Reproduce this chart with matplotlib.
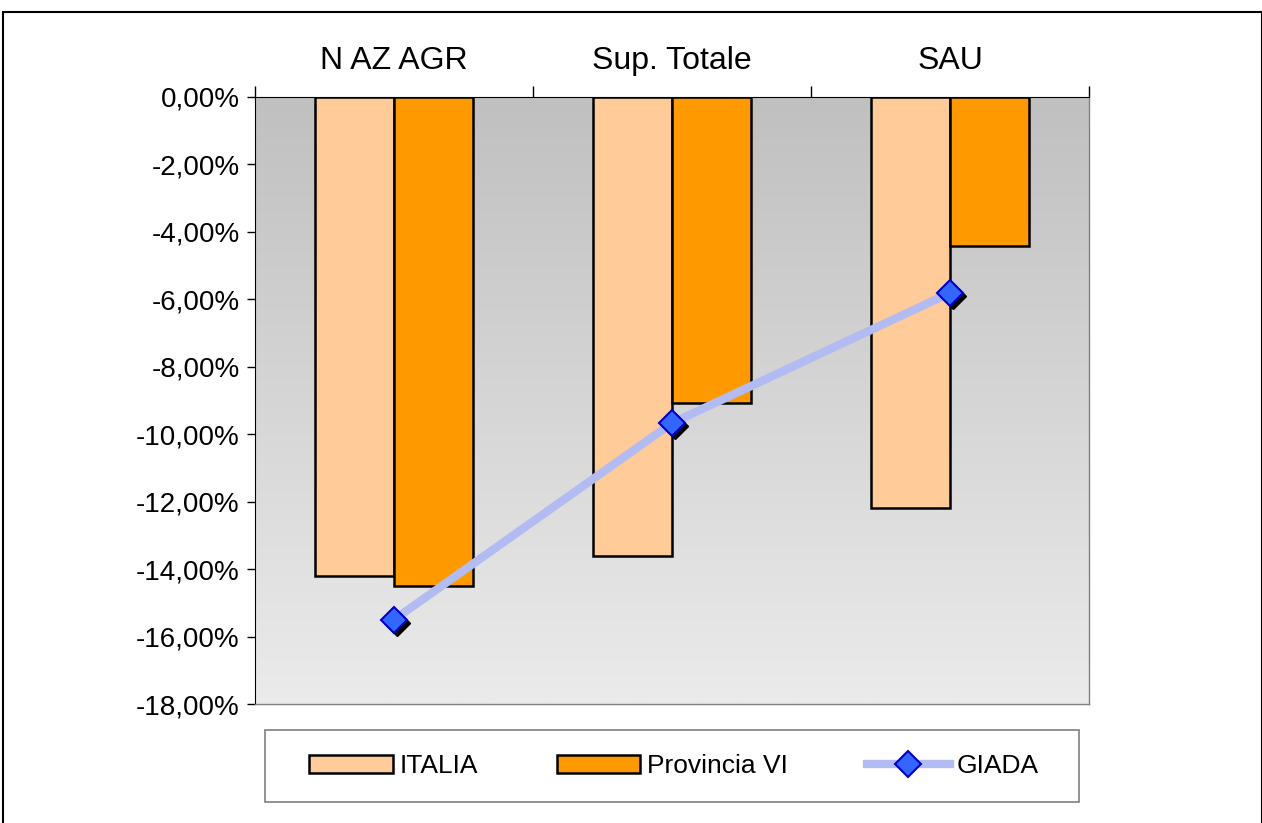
import matplotlib
matplotlib.use("Agg")
import matplotlib.pyplot as plt
import numpy as np
from matplotlib.patches import Rectangle
from matplotlib.lines import Line2D
from matplotlib.patches import Patch
from matplotlib.colors import LinearSegmentedColormap
import matplotlib.transforms as mtransforms

plt.rcParams['font.family'] = ['Liberation Sans', 'DejaVu Sans']

categories = ["N AZ AGR", "Sup. Totale", "SAU"]
italia = [-14.2, -13.6, -12.2]
provincia = [-14.5, -9.07, -4.42]
giada = [-15.5, -9.67, -5.81]
yticks = [0, -2, -4, -6, -8, -10, -12, -14, -16, -18]
ytick_labels = ["0,00%", "-2,00%", "-4,00%", "-6,00%", "-8,00%", "-10,00%",
                "-12,00%", "-14,00%", "-16,00%", "-18,00%"]

W, H = 1262, 823
fig = plt.figure(figsize=(W / 100, H / 100), dpi=100)
ax = fig.add_axes([255 / W, 1 - 704 / H, (1089 - 255) / W, (704 - 97) / H])

# outer frame
fig.patches.append(Rectangle((3 / W, -0.01), (W - 3) / W, (H - 12) / H + 0.01,
                             transform=fig.transFigure, fill=False,
                             edgecolor='black', lw=1.5))

x = np.arange(len(categories))
ax.set_xlim(-0.5, 2.5)
ax.set_ylim(-18, 0)

# gradient background (gray at top, light at bottom)
grad = np.linspace(0, 1, 256).reshape(-1, 1)
cmap = LinearSegmentedColormap.from_list('g', ['#c0c0c0', '#ebebeb'])
ax.imshow(grad, extent=(-0.5, 2.5, -18, 0), aspect='auto', cmap=cmap,
          zorder=0, origin='upper')

bw = 0.283
ax.bar(x - bw / 2, italia, width=bw, color='#ffcc99', edgecolor='black',
       lw=1.8, zorder=2)
ax.bar(x + bw / 2, provincia, width=bw, color='#ff9900', edgecolor='black',
       lw=1.8, zorder=2)

line_color = '#b3bbf3'
# GIADA line
ax.plot(x, giada, color=line_color, lw=6, zorder=3, solid_capstyle='butt')
# shadow markers
shadow = mtransforms.offset_copy(ax.transData, fig=fig, x=3, y=-3, units='dots')
ax.plot(x, giada, ls='none', marker='D', ms=13, color='black', mec='black',
        transform=shadow, zorder=4)
ax.plot(x, giada, ls='none', marker='D', ms=13, color='#3366ff', mec='#0000cc',
        mew=1.5, zorder=5)

ax.set_yticks(yticks)
ax.set_yticklabels(ytick_labels, fontsize=20)
ax.xaxis.tick_top()
ax.set_xticks([-0.5, 0.5, 1.5, 2.5])
ax.set_xticklabels([])
ax.tick_params(axis='x', length=8, width=1, direction='out')
ax.tick_params(axis='y', length=6, width=1, direction='out', pad=5)
for i, c in enumerate(categories):
    ax.text(i, 1.08, c, ha='center', va='center', fontsize=23,
            transform=ax.transData, clip_on=False)

for s in ['right', 'bottom']:
    ax.spines[s].set_color('#808080')
    ax.spines[s].set_linewidth(1)
ax.spines['top'].set_color('black')
ax.spines['left'].set_color('black')

# legend frame
fig.patches.append(Rectangle((265 / W, 1 - 802 / H), (1079 - 265) / W, 72 / H,
                             transform=fig.transFigure, fill=False,
                             edgecolor='#808080', lw=1.2))
handles = [Patch(facecolor='#ffcc99', edgecolor='black', lw=1.8, label='ITALIA'),
           Patch(facecolor='#ff9900', edgecolor='black', lw=1.8, label='Provincia VI'),
           Line2D([], [], color=line_color, lw=6, marker='D', ms=13,
                  mfc='#3366ff', mec='#0000cc', mew=1.5, label='GIADA')]
leg = fig.legend(handles=handles, loc='center',
                 bbox_to_anchor=((307 + 1041) / 2 / W, 1 - 766 / H),
                 ncol=3, fontsize=19, frameon=False,
                 handlelength=3.15, handleheight=0.65,
                 handletextpad=0.25, columnspacing=3.0, borderpad=0,
                 borderaxespad=0)

fig.savefig('out.png', dpi=100)
